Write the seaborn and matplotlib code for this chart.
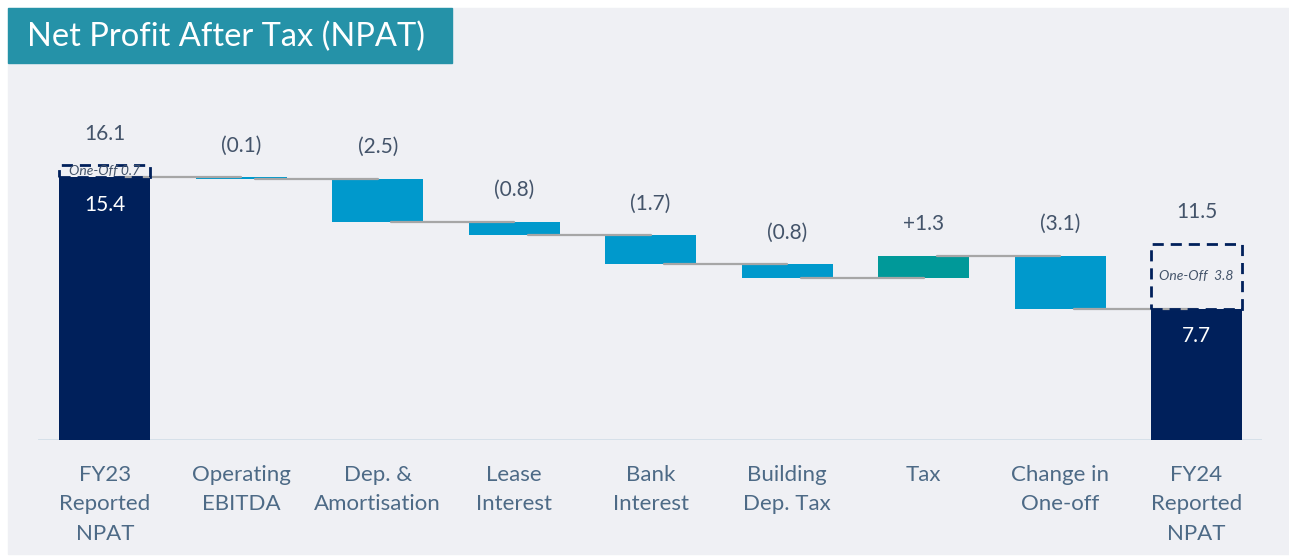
import matplotlib
matplotlib.use("Agg")
import pandas as pd
import matplotlib.pyplot as plt
from matplotlib.patches import Rectangle
import seaborn as sns

# Data
categories = ["FY23\nReported\nNPAT", "Operating\nEBITDA", "Dep. &\nAmortisation", "Lease\nInterest",
              "Bank\nInterest", "Building\nDep. Tax", "Tax", "Change in\nOne-off", "FY24\nReported\nNPAT"]
changes = [15.4, -0.1, -2.5, -0.8, -1.7, -0.8, 1.3, -3.1, 7.7]
kinds = ["total", "down", "down", "down", "down", "down", "up", "down", "total"]
value_labels = ["16.1", "(0.1)", "(2.5)", "(0.8)", "(1.7)", "(0.8)", "+1.3", "(3.1)", "11.5"]
one_off = [0.7, 0, 0, 0, 0, 0, 0, 0, 3.8]
one_off_labels = ["One-Off 0.7", "", "", "", "", "", "", "", "One-Off  3.8"]

colors = {"total": "#00205b", "down": "#0099cc", "up": "#009999"}
navy = "#00205b"
text_col = "#44546a"
tick_col = "#4d6a86"

# Waterfall positions
bottoms, heights, levels = [], [], []
running = 0.0
for c, k in zip(changes, kinds):
    if k == "total":
        bottoms.append(0.0)
        heights.append(c)
        running = c
    else:
        bottoms.append(running + min(0.0, c))
        heights.append(abs(c))
        running += c
    levels.append(running)

df = pd.DataFrame({"category": categories, "height": heights})

sns.set_theme(style="white")
plt.rcParams["font.family"] = ["Lato", "DejaVu Sans"]

W, H = 1289, 556
fig = plt.figure(figsize=(W / 100, H / 100), dpi=100, facecolor="white")

# grey slide background + title banner
fig.patches.append(Rectangle((8 / W, 2 / H), (W - 8) / W, (H - 10) / H,
                             transform=fig.transFigure, color="#eff0f4", zorder=-10))
fig.patches.append(Rectangle((8 / W, 1 - 63 / H), 444 / W, 55 / H,
                             transform=fig.transFigure, color="#2592a8", zorder=-5))
fig.text(27 / W, 1 - 37 / H, "Net Profit After Tax (NPAT)", color="white",
         fontsize=23.5, va="center", ha="left")

ax = fig.add_axes([38 / W, 1 - 440 / H, 1224 / W, 370 / H])
ax.set_facecolor("none")

bar_w = 0.667
sns.barplot(data=df, x="category", y="height", bottom=bottoms, width=bar_w,
            color=navy, linewidth=0, errorbar=None, ax=ax, zorder=2)
for patch, k in zip(ax.patches, kinds):
    patch.set_facecolor(colors[k])

# connectors
for i in range(len(categories) - 1):
    ax.plot([i + 0.1, i + 1], [levels[i], levels[i]], color="#a6a6a6", lw=1.6, zorder=3)

# one-off dashed boxes
for i, extra in enumerate(one_off):
    if extra > 0:
        ax.add_patch(Rectangle((i - bar_w / 2, heights[i]), bar_w, extra, fill=False,
                               ls=(0, (4, 2.5)), ec=navy, lw=2, zorder=4))
        ax.text(i, heights[i] + extra / 2, one_off_labels[i], ha="center", va="center",
                fontsize=10, style="italic", color=text_col, zorder=5)

# value labels
for i, lab in enumerate(value_labels):
    top = bottoms[i] + heights[i] + one_off[i]
    ax.annotate(lab, (i, top), xytext=(0, 23), textcoords="offset points",
                ha="center", va="center", fontsize=15, color=text_col)
    if kinds[i] == "total":
        ax.annotate(f"{heights[i]:.1f}", (i, heights[i]), xytext=(0, -20),
                    textcoords="offset points", ha="center", va="center",
                    fontsize=15, color="white", zorder=5)

ax.axhline(0, color="#d3dfe8", lw=2, zorder=1)
ax.set_xlim(-0.49, 8.48)
ax.set_ylim(0, 370 / 17.05)
ax.set_yticks([])
ax.set_xlabel("")
ax.set_ylabel("")
ax.tick_params(axis="x", length=0, pad=18, labelsize=16, labelcolor=tick_col)
for lbl in ax.get_xticklabels():
    lbl.set_linespacing(1.58)
sns.despine(ax=ax, left=True, bottom=True)

fig.savefig("out.png", dpi=100)
